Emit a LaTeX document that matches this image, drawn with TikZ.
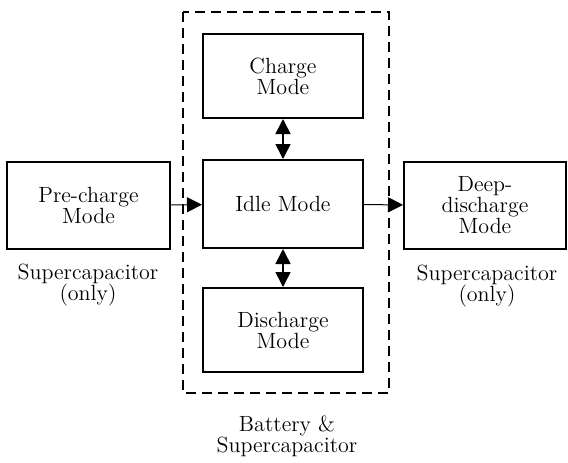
\documentclass[tikz,border=0pt]{standalone}
\usepackage{tikz}
\usetikzlibrary{arrows.meta}

\begin{document}
\begin{tikzpicture}[x=0.5pt, y=-0.5pt,
    mode/.style={rectangle, draw, line width=1pt, align=center, inner sep=0pt,
      minimum width=80pt, minimum height=42pt, font=\fontsize{11}{10.5}\selectfont},
    note/.style={align=center, font=\fontsize{11}{10.5}\selectfont},
    tip/.style={-{Triangle[length=7.5pt, width=7.5pt]}, line width=0.5pt},
    dbltip/.style={{Triangle[length=7.5pt, width=7.5pt]}-{Triangle[length=7.5pt, width=7.5pt]}, line width=0.8pt}]

    \useasboundingbox (0,0) rectangle (568,462);

    % Define the mode boxes
    \node[mode] (charge) at (283,76) {Charge\\Mode};
    \node[mode, minimum height=44pt] (idle) at (283,204) {Idle Mode};
    \node[mode] (discharge) at (283,330) {Discharge\\Mode};
    \node[mode, minimum width=81.5pt, minimum height=43.5pt] (precharge) at (88.5,205.5) {Pre-charge\\Mode};
    \node[mode, minimum width=81pt, minimum height=43.5pt] (deepdis) at (485,205.5) {Deep-\\discharge\\Mode};

    % Labels under the boxes
    \node[note] (capleft) at (88,285) {Supercapacitor\\(only)};
    \node[note] (capright) at (487,286) {Supercapacitor\\(only)};
    \node[note] (both) at (287,436) {Battery \&\\Supercapacitor};

    % Dashed group around the battery modes
    \draw[line width=1pt, dash pattern=on 5pt off 3pt] (183,12) rectangle (389,393);

    % Transitions between the modes
    \draw[tip] (precharge) -- (idle);
    \draw[tip] (idle) -- (deepdis);
    \draw[dbltip] (charge) -- (idle);
    \draw[dbltip] (idle) -- (discharge);

\end{tikzpicture}
\end{document}
